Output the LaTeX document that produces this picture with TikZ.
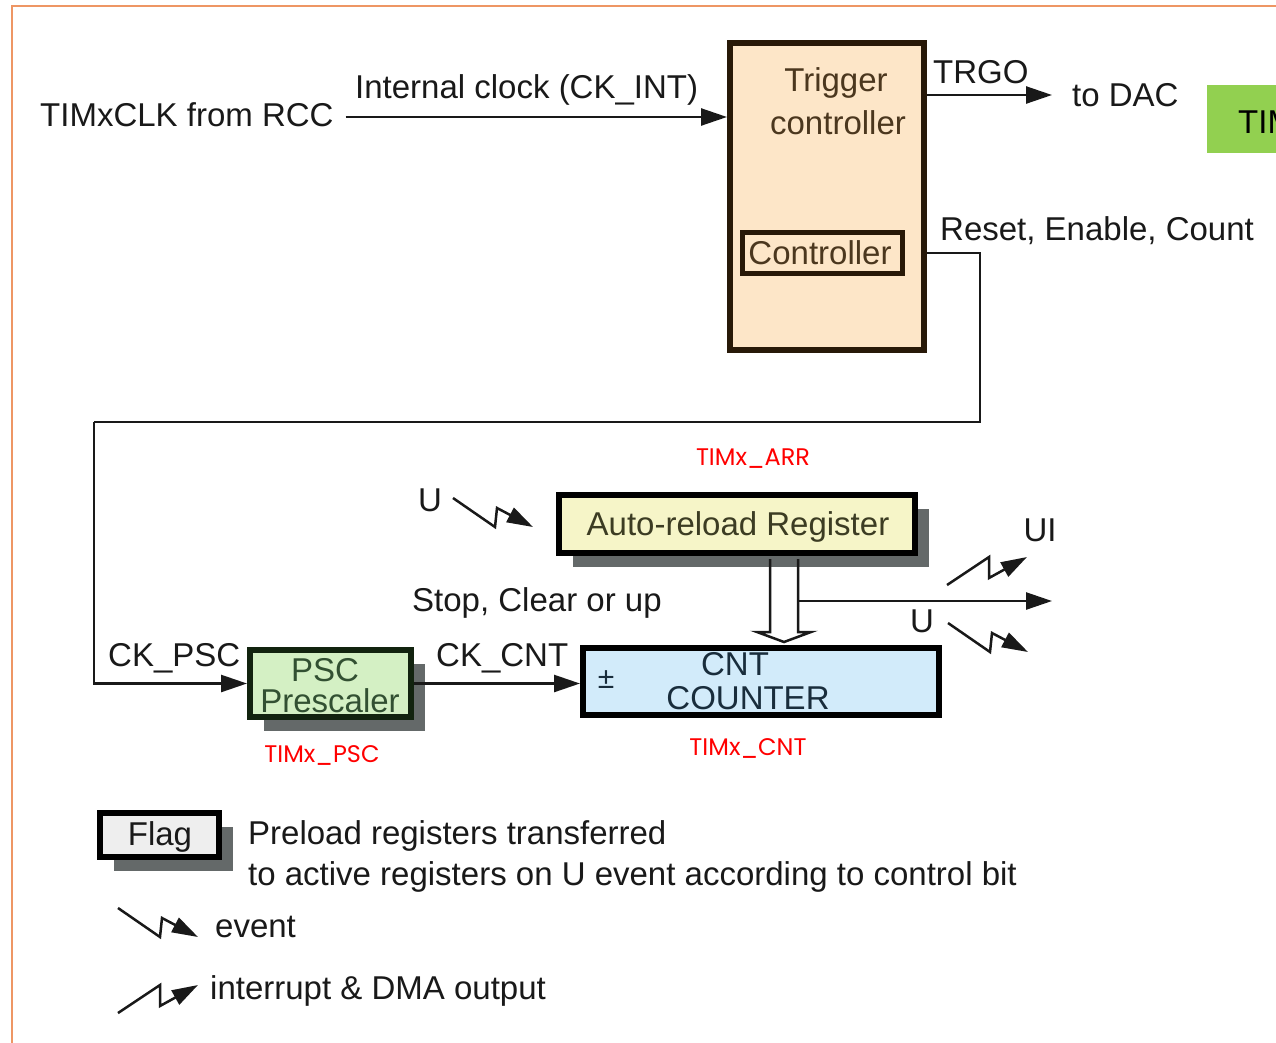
\documentclass[tikz,border=0pt]{standalone}
\usepackage{fontspec}
\setmainfont{Liberation Sans}
\newfontfamily\labelfont{Poppins}
\usetikzlibrary{arrows.meta,shadows,calc}

\definecolor{ink}{RGB}{25,25,25}
\definecolor{frame}{RGB}{238,150,100}
\definecolor{shadowc}{RGB}{100,105,105}
\definecolor{trigfill}{RGB}{253,230,200}
\definecolor{trigline}{RGB}{40,25,8}
\definecolor{trigtext}{RGB}{75,55,30}
\definecolor{arrfill}{RGB}{246,245,200}
\definecolor{arrtext}{RGB}{60,60,35}
\definecolor{pscfill}{RGB}{212,240,196}
\definecolor{pscline}{RGB}{18,35,15}
\definecolor{psctext}{RGB}{50,80,50}
\definecolor{cntfill}{RGB}{210,235,250}
\definecolor{cnttext}{RGB}{25,45,60}
\definecolor{flagfill}{RGB}{238,238,238}
\definecolor{timgreen}{RGB}{146,208,80}
\definecolor{regred}{RGB}{255,0,0}

\begin{document}
\begin{tikzpicture}[x=1pt,y=-1pt,
  txt/.style={inner sep=0pt, text height=23.5pt, text depth=0pt,
              font=\fontsize{33}{38}\selectfont, text=ink},
  reglbl/.style={inner sep=0pt, font=\labelfont\fontsize{24}{28}\selectfont, text=regred},
  blk/.style={draw=black, line width=6pt, inner sep=0pt},
  shad/.style={drop shadow={shadow xshift=14pt, shadow yshift=-14pt,
              fill=shadowc, opacity=1}},
  wire/.style={line width=2.5pt, draw=ink},
  arr/.style={wire, -{Triangle[length=26pt,width=17pt]}},
  zz/.style={line width=2.5pt, draw=ink, line join=miter,
             -{Triangle[length=26pt,width=16pt]}},
  evtsym/.pic={\draw[zz] (0,0) -- (42,29) -- (44,10) -- (80,29);},
  intsym/.pic={\draw[zz] (0,0) -- (42,-28) -- (42,-7) -- (80,-28);}
]
\clip (0,0) rectangle (1276,1042);
\fill[white] (0,0) rectangle (1276,1042);

% outer frame
\draw[frame, line width=2.5pt] (12,1060) -- (12,6) -- (1290,6);

% clock input
\node[txt, anchor=west] (clk) at (40,115) {TIMxCLK from RCC};
\node[txt, anchor=west] (ckint) at (355,87) {Internal clock (CK\_INT)};

% trigger controller
\node[blk, draw=trigline, fill=trigfill, minimum width=194pt, minimum height=307pt]
  (trig) at (827,196.5) {};
\node[txt, text=trigtext] (trigt1) at (836,80) {Trigger};
\node[txt, text=trigtext] (trigt2) at (838,123) {controller};
\node[blk, draw=trigline, line width=5pt, fill=trigfill,
      minimum width=160pt, minimum height=41pt] (ctrl) at (822.5,253) {};
\node[txt, text=trigtext] (ctrlt) at (820,253) {Controller};

\draw[arr] ([xshift=12pt]clk.east |- 0,117) -- (trig.west |- 0,117);

% TRGO output
\coordinate (dac) at (1052,95);
\draw[arr] (trig.east |- dac) -- (dac);
\node[txt, anchor=west] (trgo) at (933,72) {TRGO};
\node[txt, anchor=west] (todac) at (1072,95) {to DAC};
\node[fill=timgreen, inner sep=0pt, minimum width=84pt, minimum height=68pt]
  (timbox) at (1249,119) {};
\node[txt, anchor=west, text=black] (timt) at (1238,122) {TIM};

% reset / enable / count path
\node[txt, anchor=west] (rec) at (940,229) {Reset, Enable, Count};

% auto-reload register
\node[reglbl] (arrlbl) at (753,459) {TIMx\_ARR};
\node[blk, shad, fill=arrfill, minimum width=356pt, minimum height=58pt]
  (arr) at (737,524) {};
\node[txt, text=arrtext] (arrt) at (738,524) {Auto-reload Register};
\node[txt] (uarr) at (430,500) {U};
\pic at (453,498) {evtsym};

% prescaler
\node[blk, shad, draw=pscline, fill=pscfill, minimum width=161pt, minimum height=67pt]
  (psc) at (330.5,683.5) {};
\node[txt, text=psctext] (psct1) at (325,670) {PSC};
\node[txt, text=psctext] (psct2) at (330,701) {Prescaler};
\node[reglbl] (psclbl) at (322,755) {TIMx\_PSC};
\node[txt, anchor=west] (ckpsc) at (108,655) {CK\_PSC};

% counter
\node[blk, fill=cntfill, minimum width=356pt, minimum height=67pt]
  (cnt) at (761,681.5) {};
\node[txt, text=cnttext] (cntt1) at (735,664) {CNT};
\node[txt, text=cnttext] (cntt2) at (748,698) {COUNTER};
\node[inner sep=0pt, font=\fontsize{30}{34}\selectfont, text=cnttext] (pm) at (606,680) {±};
\node[reglbl] (cntlbl) at (748,748) {TIMx\_CNT};
\node[txt, anchor=west] (ckcnt) at (436,655) {CK\_CNT};

% connectors
\coordinate (r1) at (980,422);
\coordinate (r2) at (94,422);
\draw[wire] (trig.east |- ctrl) -| (r1) -- (r2);
\draw[arr] (r2) |- (psc.west);
\draw[arr] (psc.east) -- (cnt.west |- psc.east);

% preload transfer from ARR into the counter
\draw[wire, line join=miter]
  ($(arr.south -| 770,0)+(0,3)$) -- (770,632) -- (757,632) -- ($(cnt.north -| 784,0)+(0,-3)$)
  -- (811,632) -- (798,632) -- ($(arr.south -| 798,0)+(0,3)$);

% update outputs
\coordinate (uout) at (1052,601);
\draw[arr] (798,601) -- (uout);
\node[txt, anchor=west] (scu) at (412,600) {Stop, Clear or up};
\node[txt] (ui) at (1040,530) {UI};
\pic at (947,585) {intsym};
\node[txt] (ulow) at (922,621) {U};
\pic at (948,623) {evtsym};

% legend
\node[blk, shad, fill=flagfill, minimum width=119pt, minimum height=44pt]
  (flag) at (159.5,835) {};
\node[txt] (flagt) at (160,834) {Flag};
\node[txt, anchor=west] (leg1) at (248,833) {Preload registers transferred};
\node[txt, anchor=west] (leg2) at (248,874) {to active registers on U event according to control bit};
\pic at (118,908) {evtsym};
\node[txt, anchor=west] (legevt) at (215,926) {event};
\pic at (118,1013) {intsym};
\node[txt, anchor=west] (legint) at (210,988) {interrupt \& DMA output};
\end{tikzpicture}
\end{document}
